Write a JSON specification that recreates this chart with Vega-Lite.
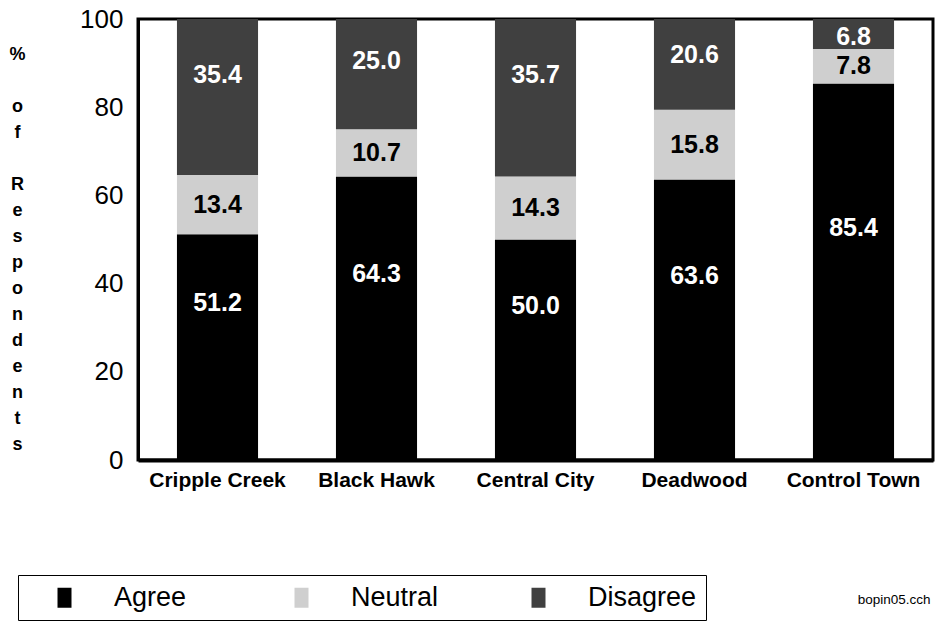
{
  "$schema": "https://vega.github.io/schema/vega-lite/v6.json",
  "width": 795,
  "height": 441,
  "autosize": {"type": "none"},
  "padding": {"left": 138, "top": 19, "right": 11, "bottom": 164},
  "background": "white",
  "config": {
    "font": "Liberation Sans",
    "view": {"stroke": "black", "strokeWidth": 3}
  },
  "data": {
    "values": [
      {"town": "Cripple Creek", "response": "Agree", "pct": 51.2},
      {"town": "Cripple Creek", "response": "Neutral", "pct": 13.4},
      {"town": "Cripple Creek", "response": "Disagree", "pct": 35.4},
      {"town": "Black Hawk", "response": "Agree", "pct": 64.3},
      {"town": "Black Hawk", "response": "Neutral", "pct": 10.7},
      {"town": "Black Hawk", "response": "Disagree", "pct": 25.0},
      {"town": "Central City", "response": "Agree", "pct": 50.0},
      {"town": "Central City", "response": "Neutral", "pct": 14.3},
      {"town": "Central City", "response": "Disagree", "pct": 35.7},
      {"town": "Deadwood", "response": "Agree", "pct": 63.6},
      {"town": "Deadwood", "response": "Neutral", "pct": 15.8},
      {"town": "Deadwood", "response": "Disagree", "pct": 20.6},
      {"town": "Control Town", "response": "Agree", "pct": 85.4},
      {"town": "Control Town", "response": "Neutral", "pct": 7.8},
      {"town": "Control Town", "response": "Disagree", "pct": 6.8}
    ]
  },
  "transform": [
    {"calculate": "indexof(['Agree','Neutral','Disagree'], datum.response)", "as": "ord"},
    {"stack": "pct", "groupby": ["town"], "sort": [{"field": "ord", "order": "ascending"}], "as": ["y0", "y1"]},
    {"calculate": "datum.response === 'Agree' ? (datum.y0 + datum.y1) / 2 + 10 : datum.response === 'Neutral' ? (datum.y0 + datum.y1) / 2 : datum.y1 - 0.3 * (datum.y1 - datum.y0) - 2", "as": "labpos"}
  ],
  "encoding": {
    "x": {
      "field": "town",
      "type": "nominal",
      "sort": ["Cripple Creek", "Black Hawk", "Central City", "Deadwood", "Control Town"],
      "scale": {"paddingInner": 0.49, "paddingOuter": 0.245},
      "axis": {
        "title": "bopin05.cch",
        "titleX": 792,
        "titleY": 143,
        "titleAlign": "right",
        "titleAnchor": null,
        "titleBaseline": "alphabetic",
        "titleFontSize": 13.5,
        "titleFontWeight": "normal",
        "titleColor": "black",
        "labelAngle": 0,
        "labelFontSize": 21,
        "labelFontWeight": "bold",
        "labelColor": "black",
        "labelPadding": 9,
        "ticks": false,
        "domainWidth": 4,
        "domainColor": "black"
      }
    }
  },
  "layer": [
    {
      "mark": {"type": "bar"},
      "encoding": {
        "y": {
          "field": "y1",
          "type": "quantitative",
          "scale": {"domain": [0, 100], "nice": false},
          "axis": {
            "values": [0, 20, 40, 60, 80, 100],
            "labelFontSize": 26,
            "labelColor": "black",
            "labelPadding": 15,
            "ticks": false,
            "grid": false,
            "domainWidth": 3,
            "domainColor": "black",
            "title": ["%", "\u200b", "o", "f", "\u200b", "R", "e", "s", "p", "o", "n", "d", "e", "n", "t", "s"],
            "titleAngle": 0,
            "titleX": -121,
            "titleY": 40,
            "titleAlign": "center",
            "titleBaseline": "alphabetic",
            "titleFontSize": 18,
            "titleFontWeight": "bold",
            "titleLineHeight": 26,
            "titleColor": "black"
          }
        },
        "y2": {"field": "y0"},
        "color": {
          "field": "response",
          "type": "nominal",
          "scale": {"domain": ["Agree", "Neutral", "Disagree"], "range": ["#000000", "#cfcfcf", "#404040"]},
          "legend": {
            "orient": "none",
            "legendX": -120,
            "legendY": 556,
            "direction": "horizontal",
            "title": null,
            "strokeColor": "black",
            "fillColor": "white",
            "padding": 9,
            "symbolType": "M-0.7,-1H0.7V1H-0.7Z",
            "symbolSize": 400,
            "symbolOffset": 24,
            "symbolStrokeWidth": 0,
            "symbolOpacity": 1,
            "labelFontSize": 27,
            "labelOffset": 36,
            "labelColor": "black",
            "labelLimit": 300,
            "gridAlign": "all",
            "columnPadding": 41
          }
        }
      }
    },
    {
      "mark": {"type": "text", "fontSize": 25, "fontWeight": "bold", "align": "center", "baseline": "middle"},
      "encoding": {
        "y": {"field": "labpos", "type": "quantitative"},
        "text": {"field": "pct", "type": "quantitative", "format": ".1f"},
        "color": {"condition": {"test": "datum.response === 'Neutral'", "value": "black"}, "value": "white"}
      }
    }
  ]
}
